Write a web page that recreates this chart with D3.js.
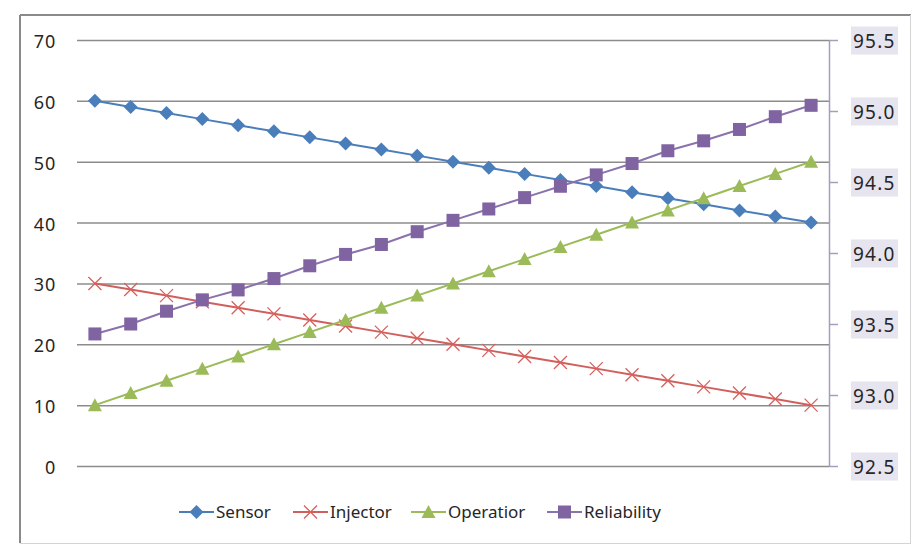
<!DOCTYPE html>
<html>
<head>
<meta charset="utf-8">
<script src="https://cdn.jsdelivr.net/npm/d3@7"></script>
<style>
  html, body { margin: 0; padding: 0; background: #ffffff; }
  svg { display: block; }
  text { font-family: "Noto Sans", "DejaVu Sans", sans-serif; fill: #262626; }
</style>
</head>
<body>
<svg id="chart" width="924" height="558"></svg>
<script>
// ---- data ----
const categories = d3.range(1, 22).map(String);
const sensor = [60,59,58,57,56,55,54,53,52,51,50,49,48,47,46,45,44,43,42,41,40];
const injector = [30,29,28,27,26,25,24,23,22,21,20,19,18,17,16,15,14,13,12,11,10];
const operatior = [10,12,14,16,18,20,22,24,26,28,30,32,34,36,38,40,42,44,46,48,50];
const reliability = [93.43,93.50,93.59,93.67,93.74,93.82,93.91,93.99,94.06,94.15,94.23,94.31,94.39,94.47,94.55,94.63,94.72,94.79,94.87,94.96,95.04];
const leftTicks = [0,10,20,30,40,50,60,70];
const rightTicks = [92.5,93.0,93.5,94.0,94.5,95.0,95.5];
const seriesNames = ["Sensor","Injector","Operatior","Reliability"];

// ---- layout ----
const svg = d3.select("#chart");
const plot = {left: 77, right: 829, top: 40, bottom: 466};

const x = d3.scalePoint().domain(categories).range([plot.left, plot.right]).padding(0.5);
const yL = d3.scaleLinear().domain([0, 70]).range([plot.bottom, plot.top]);
const yR = d3.scaleLinear().domain([92.5, 95.5]).range([plot.bottom, plot.top]);

// outer frame
svg.append("line").attr("x1",20).attr("y1",15).attr("x2",20).attr("y2",543).attr("stroke","#8a8a8a").attr("stroke-width",2);
svg.append("line").attr("x1",20).attr("y1",15).attr("x2",911).attr("y2",15).attr("stroke","#8a8a8a").attr("stroke-width",2);
svg.append("line").attr("x1",910.5).attr("y1",15).attr("x2",910.5).attr("y2",543).attr("stroke","#d4d4d4").attr("stroke-width",1);
svg.append("line").attr("x1",20).attr("y1",543.5).attr("x2",911).attr("y2",543.5).attr("stroke","#d4d4d4").attr("stroke-width",1);

// left axis with gridlines
const gL = svg.append("g").attr("transform", `translate(${plot.left},0)`)
  .call(d3.axisLeft(yL).tickValues(leftTicks).tickFormat(d3.format("d"))
        .tickSizeInner(-(plot.right - plot.left)).tickSizeOuter(0).tickPadding(21));
gL.select(".domain").remove();
gL.selectAll(".tick line").attr("stroke", "#8c8c8c").attr("stroke-width", 1.5);
gL.selectAll(".tick text").style("font-size", "18px").style("letter-spacing", "0.8px")
  .attr("fill", "#262626").attr("dy", "0.42em")
  .style("font-family", "'Noto Sans', sans-serif");

// right axis
const gR = svg.append("g").attr("transform", `translate(${plot.right},0)`)
  .call(d3.axisRight(yR).tickValues(rightTicks).tickFormat(d3.format(".1f"))
        .tickSizeInner(9).tickSizeOuter(0).tickPadding(15));
gR.select(".domain").attr("stroke", "#a59cc0").attr("stroke-width", 1.5);
gR.selectAll(".tick line").attr("stroke", "#a59cc0").attr("stroke-width", 1.5);
gR.selectAll(".tick").insert("rect", "text")
  .attr("x", 22).attr("y", -14).attr("width", 47).attr("height", 28).attr("fill", "#e6e4ee");
gR.selectAll(".tick text").style("font-size", "19px").style("letter-spacing", "1.2px")
  .attr("fill", "#262626").attr("dy", "0.38em")
  .style("font-family", "'Noto Sans', sans-serif");

// ---- series ----
const series = [
  {name: seriesNames[0], values: sensor, y: yL, color: "#4a7ebb", line: "#4a7ebb", marker: "diamond"},
  {name: seriesNames[1], values: injector, y: yL, color: "#d9605c", line: "#d0605d", marker: "x"},
  {name: seriesNames[2], values: operatior, y: yL, color: "#9bbb59", line: "#9bbb59", marker: "triangle"},
  {name: seriesNames[3], values: reliability, y: yR, color: "#8064a2", line: "#8a72ad", marker: "square"}
];

function drawMarker(g, type, color) {
  if (type === "diamond") {
    g.append("path").attr("d", "M0,-7L7,0L0,7L-7,0Z").attr("fill", color);
  } else if (type === "square") {
    g.append("rect").attr("x", -6.5).attr("y", -6.5).attr("width", 13).attr("height", 13).attr("fill", color);
  } else if (type === "triangle") {
    g.append("path").attr("d", "M0,-7L7,6L-7,6Z").attr("fill", color);
  } else if (type === "x") {
    g.append("path").attr("d", "M-6.5,-6.5L6.5,6.5M-6.5,6.5L6.5,-6.5").attr("stroke", color).attr("stroke-width", 1.3).attr("fill", "none");
  }
}

series.forEach(s => {
  const line = d3.line().x((d, i) => x(categories[i])).y(d => s.y(d));
  svg.append("path").datum(s.values).attr("d", line)
    .attr("fill", "none").attr("stroke", s.line).attr("stroke-width", 2);
  s.values.forEach((v, i) => {
    const g = svg.append("g").attr("transform", `translate(${x(categories[i])},${s.y(v)})`);
    drawMarker(g, s.marker, s.color);
  });
});

// ---- legend ----
const legendX = [179, 293, 411, 547];
const legendY = 512;
series.forEach((s, i) => {
  const g = svg.append("g").attr("transform", `translate(${legendX[i]},${legendY})`);
  g.append("line").attr("x1", 0).attr("x2", 35).attr("y1", 0).attr("y2", 0)
    .attr("stroke", s.line).attr("stroke-width", 2);
  const m = g.append("g").attr("transform", "translate(17.5,0)");
  drawMarker(m, s.marker, s.color);
  g.append("text").attr("x", 37).attr("y", 0).attr("dy", "0.35em")
    .style("font-size", "17px").text(s.name);
});
</script>
</body>
</html>
